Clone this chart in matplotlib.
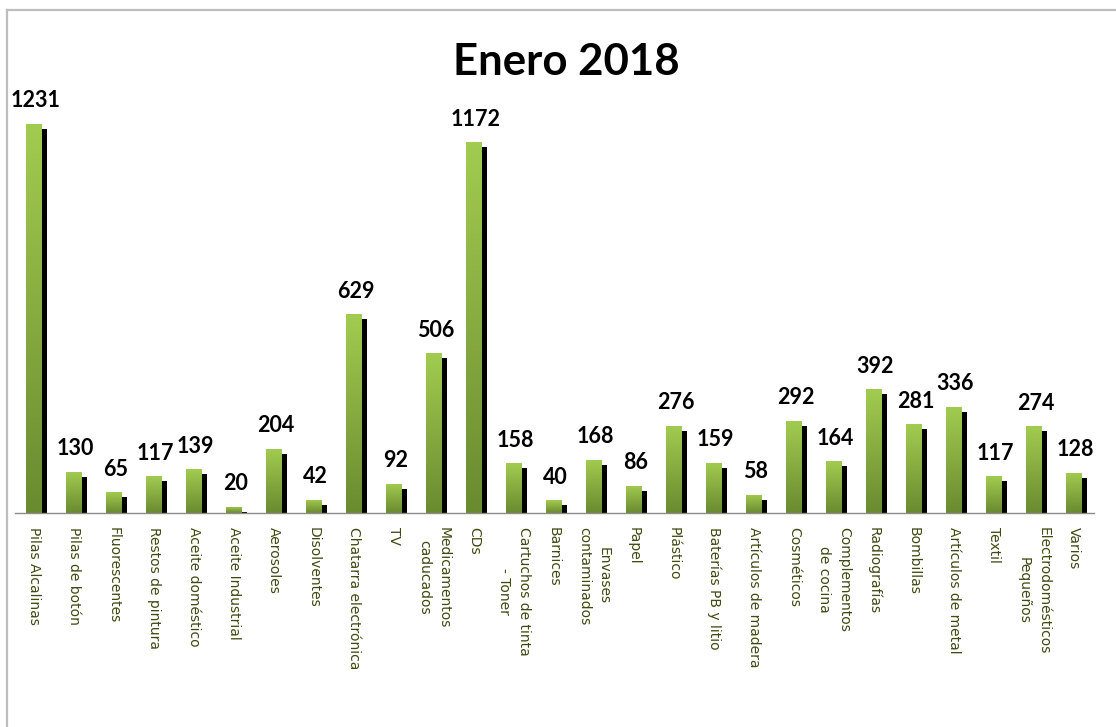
"""Enero 2018 - residuos recogidos por categoria"""

import numpy as np
import matplotlib
matplotlib.use("Agg")
from matplotlib import pyplot as plt
from matplotlib import transforms
from matplotlib.colors import LinearSegmentedColormap
from matplotlib.lines import Line2D

categorias = ["Pilas Alcalinas", "Pilas de botón", "Fluorescentes", "Restos de pintura",
              "Aceite doméstico", "Aceite Industrial", "Aerosoles", "Disolventes",
              "Chatarra electrónica", "TV", "Medicamentos\ncaducados", "CDs",
              "Cartuchos de tinta\n- Toner", "Barnices", "Envases\ncontaminados", "Papel",
              "Plástico", "Baterías PB y litio", "Artículos de madera", "Cosméticos",
              "Complementos\nde cocina", "Radiografías", "Bombillas", "Artículos de metal",
              "Textil", "Electrodomésticos\nPequeños", "Varios"]
valores = [1231, 130, 65, 117, 139, 20, 204, 42, 629, 92, 506, 1172, 158, 40, 168, 86,
           276, 159, 58, 292, 164, 392, 281, 336, 117, 274, 128]
titulo = "Enero 2018"

W, H = 1116, 727
fig = plt.figure(figsize=(W / 100, H / 100), dpi=100)
ax = fig.add_axes([15 / W, (H - 513) / H, (1094 - 15) / W, (513 - 102) / H])

x = np.arange(len(valores))
ancho = 0.4

# sombra negra desplazada (derecha y abajo)
sombra = ax.transData + transforms.ScaledTranslation(5 / 100, -5 / 100, fig.dpi_scale_trans)
for xi, v in zip(x, valores):
    ax.bar(xi, v, width=ancho, color="black", transform=sombra, zorder=1)

# barras verdes con degradado
cmap = LinearSegmentedColormap.from_list("verde", ["#6a8a30", "#a2cc50"])
grad = np.linspace(0, 1, 256).reshape(-1, 1)
barras = ax.bar(x, valores, width=ancho, color="none", zorder=2)
for b, xi, v in zip(barras, x, valores):
    im = ax.imshow(grad, cmap=cmap, origin="lower", aspect="auto", zorder=2,
                   extent=(xi - ancho / 2, xi + ancho / 2, 0, v))
    im.set_clip_path(b)

for xi, v in zip(x, valores):
    ax.annotate(str(v), (xi, v), xytext=(1, 9), textcoords="offset points",
                ha="center", va="bottom", fontsize=15.5, fontweight="bold",
                family="Lato", color="black")

ax.set_xlim(-0.475, 26.5)
ax.set_ylim(0, 1300)
ax.set_xticks(x)
ax.set_xticklabels(categorias, rotation=270, fontsize=10, color="#3f4912",
                   linespacing=1.55, multialignment="center", va="top", ha="center")
ax.tick_params(axis="x", length=0, pad=10)
ax.set_yticks([])
for s in ["top", "right", "left"]:
    ax.spines[s].set_visible(False)
ax.spines["bottom"].set_color("#8c8c8c")
ax.spines["bottom"].set_linewidth(1)

fig.text(566 / W, 1 - 62 / H, titulo, ha="center", va="center", fontsize=31.5,
         fontweight="bold", family="Lato", color="black")

# borde del grafico
fig.add_artist(Line2D([7 / W, 1], [1 - 10 / H, 1 - 10 / H], color="#bdbdbd", lw=1.6))
fig.add_artist(Line2D([7 / W, 7 / W], [0, 1 - 10 / H], color="#bdbdbd", lw=1.6))

plt.savefig("out.png", dpi=100)
